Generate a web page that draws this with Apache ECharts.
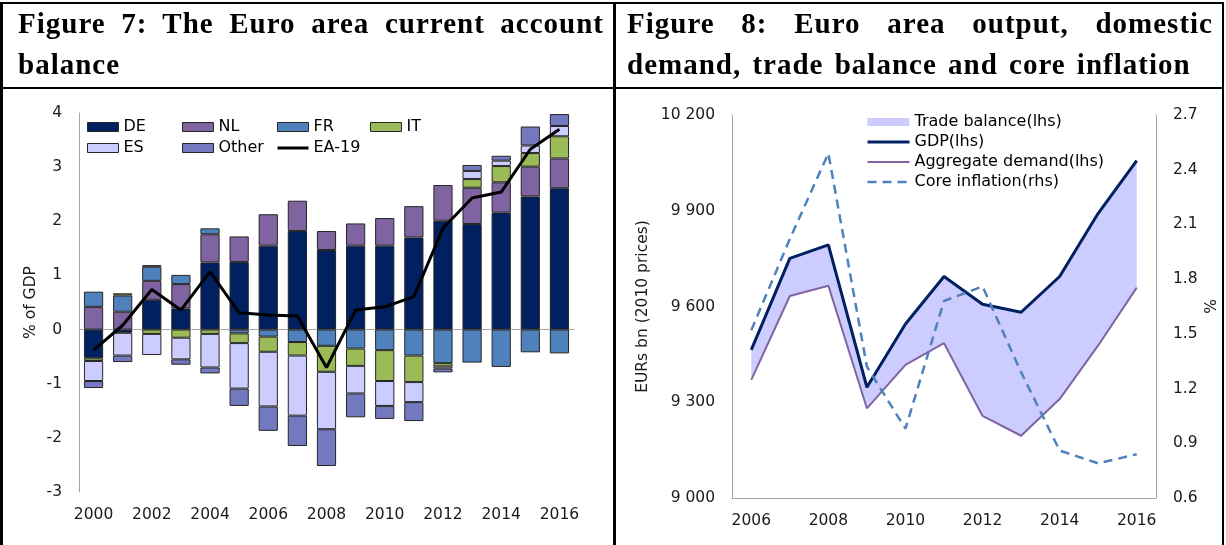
<!DOCTYPE html>
<html>
<head>
<meta charset="utf-8">
<title>Euro area current account / output</title>
<script src="https://cdn.jsdelivr.net/npm/echarts@6/dist/echarts.min.js"></script>
<style>
    html, body { margin: 0; padding: 0; background: #fff; }
    #page { position: relative; width: 1226px; height: 545px; overflow: hidden; }
    #chart { position: absolute; left: 0; top: 0; width: 1226px; height: 545px; }
    .rule { position: absolute; background: #000; }
    .title {
        position: absolute;
        font-family: "Liberation Serif", "Times New Roman", serif;
        font-weight: bold;
        font-size: 29px;
        line-height: 41px;
        letter-spacing: 1px;
        word-spacing: 3px;
        text-align: justify;
        color: #000;
    }
</style>
</head>
<body>
<div id="page">
    <div id="chart"></div>
    <!-- table lines -->
    <div class="rule" style="left:0;top:2px;width:1224px;height:2px"></div>
    <div class="rule" style="left:0;top:2px;width:3px;height:543px"></div>
    <div class="rule" style="left:1222px;top:2px;width:2px;height:543px"></div>
    <div class="rule" style="left:613px;top:2px;width:3px;height:543px"></div>
    <div class="rule" style="left:0;top:87px;width:1224px;height:2px"></div>
    <div class="title" style="left:18px;top:3px;width:586px">Figure 7: The Euro area current account balance</div>
    <div class="title" style="left:627px;top:3px;width:586px">Figure 8: Euro area output, domestic demand, trade balance and core inflation</div>
</div>
<script>
'use strict';

var FONT = 'DejaVu Sans';

// Figure 7 - current account, % of GDP
var caYears = ['2000', '2001', '2002', '2003', '2004', '2005', '2006', '2007', '2008',
    '2009', '2010', '2011', '2012', '2013', '2014', '2015', '2016'];
var caDE = [-0.53, -0.06, 0.55, 0.39, 1.24, 1.25, 1.55, 1.82, 1.47, 1.55, 1.55, 1.70, 2.01, 1.95, 2.16, 2.46, 2.61];
var caNL = [0.42, 0.33, 0.35, 0.45, 0.52, 0.47, 0.58, 0.56, 0.35, 0.41, 0.51, 0.58, 0.66, 0.67, 0.56, 0.55, 0.55];
var caFR = [0.28, 0.30, 0.26, 0.17, 0.11, -0.07, -0.13, -0.23, -0.30, -0.35, -0.38, -0.48, -0.62, -0.61, -0.69, -0.42, -0.44];
var caIT = [-0.05, 0.04, -0.08, -0.15, -0.08, -0.18, -0.28, -0.25, -0.48, -0.32, -0.57, -0.49, -0.06, 0.16, 0.30, 0.25, 0.41];
var caES = [-0.37, -0.42, -0.39, -0.40, -0.62, -0.84, -1.01, -1.11, -1.06, -0.51, -0.46, -0.37, -0.04, 0.15, 0.10, 0.14, 0.19];
var caOther = [-0.13, -0.12, 0.03, -0.10, -0.11, -0.32, -0.45, -0.56, -0.68, -0.44, -0.24, -0.35, -0.07, 0.11, 0.09, 0.35, 0.22];
var caEA19 = [-0.38, 0.08, 0.74, 0.36, 1.07, 0.31, 0.27, 0.25, -0.70, 0.36, 0.42, 0.61, 1.87, 2.43, 2.54, 3.33, 3.70];

// Figure 8 - output, demand (EUR bn, 2010 prices) and core inflation (%)
var outYears = ['2006', '2007', '2008', '2009', '2010', '2011', '2012', '2013', '2014', '2015', '2016'];
var gdp = [9464, 9751, 9793, 9347, 9545, 9694, 9607, 9582, 9694, 9892, 10057];
var aggDemand = [9370, 9633, 9665, 9281, 9417, 9485, 9257, 9195, 9310, 9478, 9659];
var coreInflation = [1.52, 2.02, 2.49, 1.32, 0.98, 1.68, 1.76, 1.29, 0.86, 0.79, 0.84];

// area between the two lines
var tradeBalance = gdp.map(function (g, i) { return g - aggDemand[i]; });

var axisGrey = '#a6a6a6';
var labelStyle = { fontFamily: FONT, fontSize: 15.5, color: '#1a1a1a' };

var thousands = function (v) {
    return String(v).replace(/\B(?=(\d{3})+(?!\d))/g, ' ');
};

var barSeries = function (name, data, color) {
    return {
        name: name,
        type: 'bar',
        stack: 'ca',
        xAxisIndex: 0,
        yAxisIndex: 0,
        barCategoryGap: '34%',
        data: data,
        itemStyle: { color: color, borderColor: '#262626', borderWidth: 1 }
    };
};

// legend line entries: no marker dot on the line
var noDot = { opacity: 0, borderWidth: 0 };

var legendBase = {
    orient: 'vertical',
    padding: 0,
    itemGap: 5,
    selectedMode: false,
    textStyle: { fontFamily: FONT, fontSize: 16, color: '#000' }
};
var caLegend = function (left, names) {
    return Object.assign({}, legendBase, {
        left: left,
        top: 119,
        itemWidth: 31,
        itemHeight: 9,
        itemStyle: { borderColor: '#262626', borderWidth: 1 },
        data: names.map(function (n) {
            return n === 'EA-19' ? { name: n, itemStyle: noDot, lineStyle: { width: 3 } } : { name: n, icon: 'rect' };
        })
    });
};

var option = {
    animation: false,
    legend: [
        caLegend(87, ['DE', 'ES']),
        caLegend(182, ['NL', 'Other']),
        caLegend(276, ['FR', 'EA-19']),
        caLegend(370, ['IT']),
        Object.assign({}, legendBase, {
            left: 866,
            top: 114,
            itemGap: 4,
            itemWidth: 42,
            itemHeight: 8,
            data: [
                { name: 'Trade balance(lhs)', icon: 'rect', itemStyle: { color: '#ccccff', borderWidth: 0 } },
                { name: 'GDP(lhs)', itemStyle: noDot, lineStyle: { width: 3 } },
                { name: 'Aggregate demand(lhs)', itemStyle: noDot, lineStyle: { width: 2 } },
                { name: 'Core inflation(rhs)', itemStyle: noDot, lineStyle: { width: 2.5 } }
            ]
        })
    ],
    grid: [
        { left: 79, top: 113, width: 495, height: 379 },
        { left: 732, top: 115, width: 424, height: 383 }
    ],
    xAxis: [
        {
            gridIndex: 0, type: 'category', data: caYears,
            axisLine: { show: false, onZero: false },
            axisTick: { show: false },
            axisLabel: Object.assign({ interval: 1, margin: 15 }, labelStyle)
        },
        {
            // zero line of figure 7
            gridIndex: 0, type: 'category', data: caYears, position: 'top',
            axisLine: { show: true, onZero: true, lineStyle: { color: axisGrey, width: 1 } },
            axisTick: { show: false },
            axisLabel: { show: false }
        },
        {
            gridIndex: 1, type: 'category', data: outYears, boundaryGap: true,
            axisLine: { show: true, onZero: false, lineStyle: { color: axisGrey, width: 1 } },
            axisTick: { show: false },
            axisLabel: Object.assign({ interval: 1, margin: 15 }, labelStyle)
        }
    ],
    yAxis: [
        {
            gridIndex: 0, type: 'value', min: -3, max: 4, interval: 1,
            name: '% of GDP', nameLocation: 'middle', nameGap: 40, nameRotate: 90,
            nameTextStyle: labelStyle,
            axisLine: { show: true, lineStyle: { color: axisGrey, width: 1 } },
            axisTick: { show: false },
            splitLine: { show: false },
            axisLabel: Object.assign({ margin: 17 }, labelStyle)
        },
        {
            gridIndex: 1, type: 'value', min: 9000, max: 10200, interval: 300,
            name: 'EURs bn (2010 prices)', nameLocation: 'middle', nameGap: 81, nameRotate: 90,
            nameTextStyle: labelStyle,
            axisLine: { show: true, lineStyle: { color: axisGrey, width: 1 } },
            axisTick: { show: false },
            splitLine: { show: false },
            axisLabel: Object.assign({ margin: 17, formatter: thousands }, labelStyle)
        },
        {
            gridIndex: 1, type: 'value', position: 'right', min: 0.6, max: 2.7, interval: 0.3,
            name: '%', nameLocation: 'middle', nameGap: 48, nameRotate: 90,
            nameTextStyle: labelStyle,
            axisLine: { show: true, lineStyle: { color: axisGrey, width: 1 } },
            axisTick: { show: false },
            splitLine: { show: false },
            axisLabel: Object.assign({
                margin: 17,
                formatter: function (v) { return v.toFixed(1); }
            }, labelStyle)
        }
    ],
    series: [
        barSeries('DE', caDE, '#00205f'),
        barSeries('NL', caNL, '#8064a2'),
        barSeries('FR', caFR, '#4f81bd'),
        barSeries('IT', caIT, '#9bbb59'),
        barSeries('ES', caES, '#ccccff'),
        barSeries('Other', caOther, '#7379bf'),
        {
            name: 'EA-19', type: 'line', xAxisIndex: 0, yAxisIndex: 0,
            data: caEA19, symbol: 'none', z: 5,
            color: '#000',
            lineStyle: { color: '#000', width: 3 }
        },

        // figure 8
        {
            name: 'base', type: 'line', xAxisIndex: 2, yAxisIndex: 1, stack: 'tb',
            data: aggDemand, symbol: 'none', silent: true,
            lineStyle: { opacity: 0, width: 0 }
        },
        {
            name: 'Trade balance(lhs)', type: 'line', xAxisIndex: 2, yAxisIndex: 1, stack: 'tb',
            data: tradeBalance, symbol: 'none', color: '#ccccff', z: 1,
            lineStyle: { width: 0 },
            areaStyle: { color: '#ccccff', opacity: 1 }
        },
        {
            name: 'Aggregate demand(lhs)', type: 'line', xAxisIndex: 2, yAxisIndex: 1,
            data: aggDemand, symbol: 'none', color: '#8064a2', z: 3,
            lineStyle: { color: '#8064a2', width: 2 }
        },
        {
            name: 'GDP(lhs)', type: 'line', xAxisIndex: 2, yAxisIndex: 1,
            data: gdp, symbol: 'none', color: '#002060', z: 4,
            lineStyle: { color: '#002060', width: 3 }
        },
        {
            name: 'Core inflation(rhs)', type: 'line', xAxisIndex: 2, yAxisIndex: 2,
            data: coreInflation, symbol: 'none', color: '#4f81bd', z: 5,
            lineStyle: { color: '#4f81bd', width: 2.5, type: [9, 6] }
        }
    ]
};

var chart = echarts.init(document.getElementById('chart'), null, { renderer: 'canvas' });
chart.setOption(option);
</script>
</body>
</html>
